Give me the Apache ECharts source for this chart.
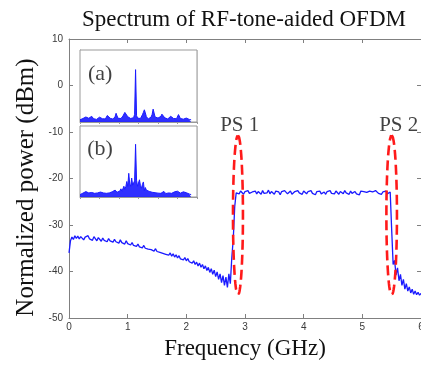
<!DOCTYPE html>
<html>
<head>
<meta charset="utf-8">
<script src="https://cdn.jsdelivr.net/npm/echarts@6/dist/echarts.min.js"></script>
<style>html,body{margin:0;padding:0;background:#fff}#c{width:421px;height:371px}</style>
</head>
<body>
<div id="c"></div>
<script>
// ---- data ----
const titleText = 'Spectrum of RF-tone-aided OFDM';
const xName = 'Frequency (GHz)';
const yName = 'Normalized power (dBm)';
const xTicks = [0, 1, 2, 3, 4, 5, 6];
const yTicks = [-50, -40, -30, -20, -10, 0, 10];

// main spectrum, sampled every 0.025 GHz from 0 to 6 GHz (dBm)
const freqStep = 0.025;
const power = [
  -36.0,-33.4,-32.6,-33.1,-32.3,-32.9,-32.4,-33.0,-32.5,-32.2,
  -33.2,-32.6,-32.9,-32.3,-33.0,-32.7,-33.3,-32.5,-32.9,-33.4,
  -32.7,-33.1,-33.5,-32.8,-33.3,-33.0,-33.6,-32.9,-33.4,-33.2,
  -33.7,-33.1,-33.6,-33.3,-33.9,-33.2,-33.8,-33.5,-34.1,-33.4,
  -34.0,-33.7,-34.3,-33.8,-34.4,-34.0,-34.6,-34.1,-34.7,-34.3,
  -34.9,-34.4,-35.0,-34.6,-35.2,-34.8,-35.3,-35.0,-35.6,-35.1,
  -35.7,-35.3,-35.9,-35.5,-36.1,-35.7,-36.3,-35.9,-36.5,-36.0,
  -36.7,-36.2,-36.9,-36.4,-37.1,-36.6,-37.3,-36.9,-37.5,-37.0,
  -37.7,-37.2,-37.9,-37.5,-38.2,-37.7,-38.5,-38.0,-38.8,-38.2,
  -39.1,-38.5,-39.4,-38.8,-39.8,-39.1,-40.2,-39.4,-40.6,-39.7,
  -41.1,-40.1,-41.7,-40.5,-42.4,-40.9,-43.0,-41.2,-43.4,-40.5,
  -42.6,-37.0,-33.0,-26.0,-23.1,
  -22.9,-23.3,-22.7,-23.1,-23.4,-22.8,-23.0,-22.6,-23.2,-23.5,
  -22.9,-23.1,-22.7,-23.3,-22.8,-23.0,-23.4,-22.6,-23.2,-22.9,
  -23.1,-22.5,-23.3,-22.8,-23.0,-23.4,-22.7,-23.1,-22.9,-23.5,
  -22.8,-23.2,-22.6,-23.0,-23.3,-22.9,-22.7,-23.4,-23.0,-22.8,
  -23.2,-22.6,-23.1,-22.9,-23.4,-22.7,-23.0,-23.3,-22.8,-23.1,
  -22.6,-23.2,-22.9,-23.5,-22.8,-23.0,-22.7,-23.3,-23.1,-22.9,
  -23.4,-22.8,-23.0,-22.6,-23.2,-22.9,-23.3,-22.7,-23.1,-23.4,
  -22.8,-23.0,-23.3,-22.6,-23.1,-22.9,-23.4,-22.7,-23.2,-23.0,
  -22.8,-23.3,-22.9,-23.5,-22.7,-23.1,-22.8,-23.2,-23.0,-23.4,
  -22.7,-23.1,-22.9,-23.3,-22.6,-23.0,-23.2,-22.8,-23.4,-22.9,
  -23.1,-22.7,-23.3,-23.0,
  -22.9,-31.0,-38.5,-37.6,-40.8,-39.2,-42.0,-40.6,-43.0,-41.7,
  -43.8,-42.6,-44.2,-43.3,-44.6,-43.8,-44.9,-44.2,-45.0,-44.5,
  -45.1,-44.7
];

// insets (a) and (b): relative spectra, sampled every 0.05 units
const insetStep = 0.05;
const insetA = [
  1.0,1.4,1.2,1.6,1.3,1.8,2.3,1.9,1.5,1.7,
  1.4,2.0,2.6,2.1,1.5,1.3,1.6,1.2,1.5,1.9,
  2.2,1.6,1.3,1.5,1.2,1.6,1.4,2.2,3.0,3.8,
  2.6,1.7,1.4,1.6,1.3,1.8,2.5,4.0,2.8,1.7,
  1.4,1.9,1.6,2.1,2.7,3.4,4.4,4.7,3.5,2.4,
  1.8,2.2,1.6,1.9,1.5,2.0,3.5,24.0,3.0,1.8,
  1.5,2.0,1.6,2.4,3.3,4.4,5.6,4.2,2.5,1.7,
  1.4,1.9,1.5,2.3,3.5,5.9,4.1,2.3,1.6,1.4,
  1.8,1.5,1.9,2.6,3.6,4.4,3.0,1.9,1.5,1.8,
  1.4,1.7,2.1,2.6,3.1,2.4,1.6,1.4,1.7,1.5,
  2.2,3.4,2.5,1.6,1.4,1.7,1.3,1.6,1.4,1.8,
  1.3,1.5,1.2,1.4,1.0
];
const insetB = [
  1.1,1.5,1.3,1.8,2.2,1.7,2.5,2.0,1.6,1.9,
  1.5,1.8,2.1,1.6,1.4,1.7,1.3,1.6,1.9,1.5,
  1.8,2.3,1.7,1.5,1.9,1.6,2.0,1.7,2.2,2.6,
  1.9,1.6,2.0,2.4,2.0,2.6,3.2,2.4,2.2,3.0,
  2.3,2.8,3.8,2.6,3.5,5.0,3.6,4.8,7.2,4.9,
  11.0,6.0,5.0,8.8,5.5,6.0,7.5,24.5,7.8,5.0,
  6.5,8.0,5.2,4.0,5.8,7.0,3.0,4.4,3.2,2.5,
  3.6,2.6,2.1,2.8,2.2,1.8,2.5,2.0,1.7,2.2,
  1.8,1.5,2.0,1.7,2.3,1.8,2.6,1.9,1.6,2.1,
  2.5,1.9,2.8,2.2,1.7,2.0,1.6,2.4,2.9,2.2,
  2.7,3.1,2.3,1.8,2.2,1.7,2.4,1.9,1.6,2.0,
  1.5,1.7,1.4,1.3,1.1
];
const insetLabels = ['(a)', '(b)'];

// PS (pilot subcarrier) annotations
const psLabels = ['PS 1', 'PS 2'];
const psLabelFreq = [2.91, 5.62];
const psLabelLevel = -8.6;
const psCenterFreq = [2.88, 5.50];
const psHalfWidth = [0.085, 0.09];
const psCenterLevel = -27.9;
const psHalfHeight = 17.2;

// ---- build ----
const mainData = power.map((v, i) => [+(i * freqStep).toFixed(3), v]);
const aData = insetA.map((v, i) => [+(i * insetStep).toFixed(3), v]);
const bData = insetB.map((v, i) => [+(i * insetStep).toFixed(3), v]);

function ellipse(cx, rx) {
  const pts = [];
  const n = 80;
  for (let k = 0; k <= n; k++) {
    const t = k / n * 2 * Math.PI;
    pts.push([cx + rx * Math.sin(t), psCenterLevel + psHalfHeight * Math.cos(t)]);
  }
  return pts;
}

const SERIF = '"Liberation Serif","Times New Roman",serif';
const SANS = '"Liberation Sans",Arial,sans-serif';
const axisGray = '#808080';
const labelGray = '#3a3a3a';

const chart = echarts.init(document.getElementById('c'), null, {renderer: 'canvas'});

const mainTick = {show: true, inside: true, length: 4, lineStyle: {color: axisGray}};
const insetAxis = (gi) => ([
  {
    type: 'value', gridIndex: gi, min: 0, max: 6, interval: 1, position: 'top',
    axisLine: {show: true, lineStyle: {color: '#999'}},
    axisTick: {show: true, inside: true, length: 2, lineStyle: {color: '#999'}},
    axisLabel: {show: false},
    splitLine: {show: true, lineStyle: {color: '#e2e2e2', width: 1}}
  }
]);
const insetYAxis = (gi) => ({
  type: 'value', gridIndex: gi, min: 0, max: 33, interval: 10,
  axisLine: {show: true, lineStyle: {color: '#999'}},
  axisTick: {show: true, inside: true, length: 2, lineStyle: {color: '#999'}},
  axisLabel: {show: false},
  splitLine: {show: true, lineStyle: {color: '#e2e2e2', width: 1}}
});

const option = {
  animation: false,
  backgroundColor: '#fff',
  title: {
    text: titleText, left: 239, top: 3, textAlign: 'center',
    textStyle: {fontFamily: SERIF, fontSize: 23, fontWeight: 'normal', color: '#111'}
  },
  grid: [
    {left: 69, right: 0, top: 39, bottom: 53, containLabel: false, outerBoundsMode: 'none'},
    {left: 80, top: 50, width: 117, height: 72, show: true, backgroundColor: '#fff', borderColor: '#999', borderWidth: 1, z: 5, outerBoundsMode: 'none'},
    {left: 80, top: 126, width: 117, height: 71, show: true, backgroundColor: '#fff', borderColor: '#999', borderWidth: 1, z: 5, outerBoundsMode: 'none'}
  ],
  xAxis: [
    {
      type: 'value', gridIndex: 0, min: 0, max: 6, interval: 1, position: 'bottom',
      name: xName, nameLocation: 'middle', nameGap: 19, nameMoveOverlap: false,
      nameTextStyle: {fontFamily: SERIF, fontSize: 23, color: '#111'},
      axisLine: {show: true, onZero: false, lineStyle: {color: axisGray}},
      axisTick: mainTick,
      axisLabel: {fontFamily: SANS, fontSize: 10, color: labelGray, margin: 4,
        formatter: v => xTicks.includes(v) ? String(v) : ''},
      splitLine: {show: false}
    },
    {
      type: 'value', gridIndex: 0, min: 0, max: 6, interval: 1, position: 'top',
      axisLine: {show: true, onZero: false, lineStyle: {color: axisGray}},
      axisTick: mainTick, axisLabel: {show: false}, splitLine: {show: false}
    },
    ...insetAxis(1), ...insetAxis(2)
  ],
  yAxis: [
    {
      type: 'value', gridIndex: 0, min: -50, max: 10, interval: 10, position: 'left',
      name: yName, nameLocation: 'middle', nameGap: 30, nameMoveOverlap: false,
      nameTextStyle: {fontFamily: SERIF, fontSize: 25, color: '#111', padding: [0, 18, 0, 0]},
      axisLine: {show: true, onZero: false, lineStyle: {color: axisGray}},
      axisTick: mainTick,
      axisLabel: {fontFamily: SANS, fontSize: 10, color: labelGray, margin: 6,
        formatter: v => yTicks.includes(v) ? String(v) : ''},
      splitLine: {show: false}
    },
    {
      type: 'value', gridIndex: 0, min: -50, max: 10, interval: 10, position: 'right',
      axisLine: {show: true, onZero: false, lineStyle: {color: axisGray}},
      axisTick: mainTick, axisLabel: {show: false}, splitLine: {show: false}
    },
    insetYAxis(1), insetYAxis(2)
  ],
  series: [
    {
      type: 'line', xAxisIndex: 0, yAxisIndex: 0, data: mainData,
      showSymbol: false, symbol: 'none', sampling: null,
      lineStyle: {color: '#1a1aff', width: 1.3}, z: 2
    },
    {
      type: 'line', xAxisIndex: 0, yAxisIndex: 0, data: ellipse(psCenterFreq[0], psHalfWidth[0]),
      showSymbol: false, symbol: 'none',
      lineStyle: {color: '#ff1a1a', width: 2.6, type: [10, 5]}, z: 4
    },
    {
      type: 'line', xAxisIndex: 0, yAxisIndex: 0, data: ellipse(psCenterFreq[1], psHalfWidth[1]),
      showSymbol: false, symbol: 'none',
      lineStyle: {color: '#ff1a1a', width: 2.6, type: [10, 5]}, z: 4
    },
    {
      type: 'scatter', xAxisIndex: 0, yAxisIndex: 0, symbolSize: 0,
      data: psLabelFreq.map((f, i) => ({value: [f, psLabelLevel], name: psLabels[i]})),
      label: {show: true, position: 'inside', formatter: p => p.name,
        fontFamily: SERIF, fontSize: 21, color: '#111'}, z: 6
    },
    {
      type: 'line', xAxisIndex: 2, yAxisIndex: 2, data: aData,
      showSymbol: false, symbol: 'none',
      lineStyle: {color: '#1a1aff', width: 1},
      areaStyle: {color: '#1a1aff', opacity: 0.9}, z: 6
    },
    {
      type: 'line', xAxisIndex: 3, yAxisIndex: 3, data: bData,
      showSymbol: false, symbol: 'none',
      lineStyle: {color: '#1a1aff', width: 1},
      areaStyle: {color: '#1a1aff', opacity: 0.9}, z: 6
    },
    {
      type: 'scatter', xAxisIndex: 2, yAxisIndex: 2, symbolSize: 0,
      data: [{value: [1.03, 22], name: insetLabels[0]}],
      label: {show: true, position: 'inside', formatter: p => p.name,
        fontFamily: SERIF, fontSize: 22, color: '#111'}, z: 7
    },
    {
      type: 'scatter', xAxisIndex: 3, yAxisIndex: 3, symbolSize: 0,
      data: [{value: [1.03, 22], name: insetLabels[1]}],
      label: {show: true, position: 'inside', formatter: p => p.name,
        fontFamily: SERIF, fontSize: 22, color: '#111'}, z: 7
    }
  ]
};
chart.setOption(option);
</script>
</body>
</html>
